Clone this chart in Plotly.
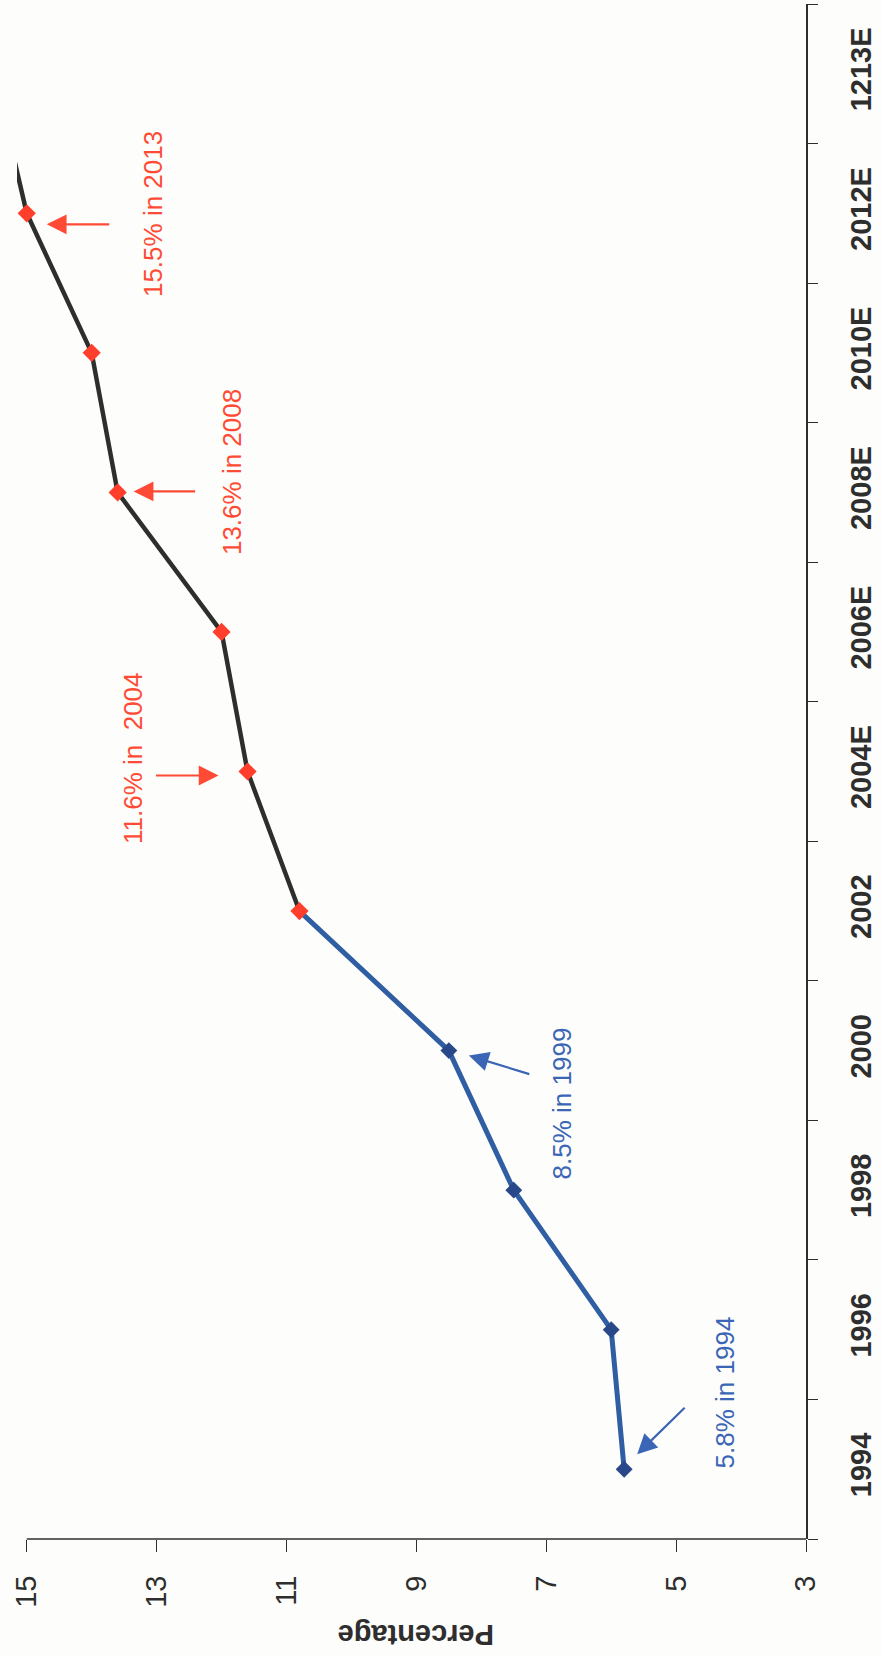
import plotly.graph_objects as go

# Share (%) by year, drawn on a chart laid out sideways
years = ["1994", "1996", "1998", "2000", "2002", "2004E", "2006E",
         "2008E", "2010E", "2012E", "1213E"]
share = [5.8, 6.0, 7.5, 8.5, 10.8, 11.6, 12.0, 13.6, 14.0, 15.0, 15.5]
pct_ticks = [15, 13, 11, 9, 7, 5, 3]
split = 4  # last actual year; estimates continue from here

callout_text = ["5.8% in 1994", "8.5% in 1999", "11.6% in\u00a0 2004",
                "13.6% in 2008", "15.5% in 2013"]
callout_point = [0, 3, 5, 7, 9]

BLUE_LINE = "#2f5ea3"
BLUE_MARK = "#29488a"
BLACK_LINE = "#2d2f2d"
RED = "#ff3f2c"
RED_TXT = "#ff4b36"
BLUE_TXT = "#3b66b6"
AXIS = "#2e2e2e"
FONT = "Liberation Sans, Arial, sans-serif"

fig = go.Figure()

# history segment (blue) and estimate segment (black)
fig.add_trace(go.Scatter(x=share[:split + 1], y=years[:split + 1], mode="lines",
                         line=dict(color=BLUE_LINE, width=5), hoverinfo="skip"))
fig.add_trace(go.Scatter(x=share[split:], y=years[split:], mode="lines",
                         line=dict(color=BLACK_LINE, width=4.5), hoverinfo="skip"))
fig.add_trace(go.Scatter(x=share[:split], y=years[:split], mode="markers",
                         marker=dict(symbol="diamond", size=13, color=BLUE_MARK)))
fig.add_trace(go.Scatter(x=share[split:], y=years[split:], mode="markers",
                         marker=dict(symbol="diamond", size=14, color=RED)))

# callout styling: (text dx, text dy, head dx, head dy, tail ax, tail ay) in pixels
callout_geom = [
    (101, 77, 13, -15, 49, -48),
    (113, -53, 20, 5, 62, 19),
    (-115, 13, -29, 4, -64, 0),
    (115, 20, 16, -1, 63, 0),
    (127, -1, 20, 11, 64, 0),
]

annotations = []
for txt, idx, g in zip(callout_text, callout_point, callout_geom):
    tdx, tdy, hdx, hdy, ax, ay = g
    col_t = BLUE_TXT if idx < split else RED_TXT
    # category position given by index so numeric-looking labels stay categorical
    annotations.append(dict(
        x=share[idx], y=idx, xref="x", yref="y", text=txt,
        showarrow=False, textangle=-90, xshift=tdx, yshift=tdy,
        font=dict(family=FONT, size=26, color=col_t)))
    annotations.append(dict(
        x=share[idx], y=idx, xref="x", yref="y", text="",
        showarrow=True, arrowhead=2, arrowsize=1.8, arrowwidth=2.2,
        arrowcolor=col_t, ax=ax, ay=ay, xshift=hdx, yshift=-hdy))

annotations.append(dict(
    x=0.505, y=0, xref="paper", yref="paper", text="<b>Percentage</b>",
    showarrow=False, textangle=180, yanchor="middle", yshift=-96,
    font=dict(family=FONT, size=29, color=AXIS)))

fig.update_layout(
    width=881, height=1657,
    margin=dict(l=17, r=68, t=4, b=118),
    paper_bgcolor="#fdfdfb", plot_bgcolor="#fdfdfb",
    showlegend=False,
    annotations=annotations,
    shapes=[dict(type="line", xref="x", yref="paper", x0=pct_ticks[0],
                 x1=pct_ticks[-1], y0=0, y1=0,
                 line=dict(color=AXIS, width=1.6))],
    xaxis=dict(range=[15.15, 3], tickvals=pct_ticks, ticktext=[str(t) for t in pct_ticks],
               ticks="outside", ticklen=12, tickwidth=1.4, tickcolor=AXIS,
               tickangle=-90, ticklabelstandoff=12,
               tickfont=dict(family=FONT, size=29, color=AXIS),
               showline=False, showgrid=False, zeroline=False),
    yaxis=dict(type="category", categoryorder="array", categoryarray=years,
               range=[-0.5, len(years) - 0.5], side="right",
               tickson="boundaries", ticks="outside", ticklen=10, tickwidth=1.4,
               tickcolor=AXIS, tickangle=-90, ticklabelstandoff=28,
               tickfont=dict(family=FONT, size=29, color=AXIS, weight="bold"),
               showline=True, linecolor=AXIS, linewidth=1.6,
               showgrid=False, zeroline=False),
)

fig.write_html("out.html")
